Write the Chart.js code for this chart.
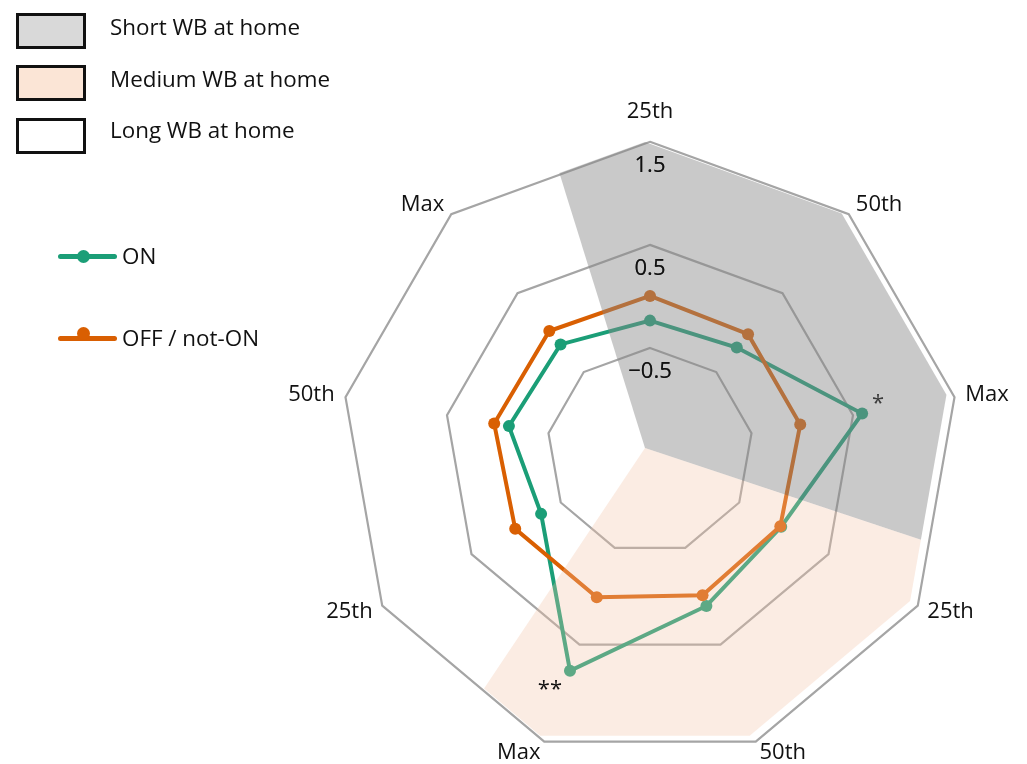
<!DOCTYPE html>
<html lang="en">
<head>
<meta charset="UTF-8">
<script src="https://cdn.jsdelivr.net/npm/chart.js"></script>
<title>WB at home radar</title>
<style>
  body { margin: 0; background: #fff; overflow: hidden; }
  #wrap { position: relative; width: 1027px; height: 764px; overflow: hidden; }
  #chart { position: absolute; left: 0; top: 0; }
  .sw { position: absolute; left: 16px; width: 70px; height: 36px; box-sizing: border-box; border: 3px solid #111; }
  .txt { position: absolute; font-family: 'Open Sans', sans-serif; font-size: 22.4px; line-height: 26px; color: #111; white-space: nowrap; }
  .ln { position: absolute; left: 58px; width: 59px; height: 5px; border-radius: 3px; }
  .dot { position: absolute; left: 77px; width: 13px; height: 13px; border-radius: 50%; }
</style>
</head>
<body>
<div id="wrap">
  <!-- canvas runs a little below the window so the bottom labels can sit low -->
  <canvas id="chart" width="1027" height="782"></canvas>
  <div id="keys"></div>
</div>
<script>
// data
const axisLabels = ['25th', '50th', 'Max', '25th', '50th', 'Max', '25th', '50th', 'Max'];
const onValues = [-0.235, -0.19, 0.59, -0.03, 0.10, 0.77, -0.28, -0.11, -0.15];
const offValues = [0.005, -0.02, -0.02, -0.04, -0.01, 0.01, 0.01, 0.035, 0.02];
const onMarks = ['', '', '*', '', '', '**', '', '', ''];
const seriesNames = ['ON', 'OFF / not-ON'];
const groupNames = ['Short WB at home', 'Medium WB at home', 'Long WB at home'];
const rMin = -1.5, rMax = 1.5, rStep = 1;

// styling
const green = '#1b9e77', orange = '#d95f02';
const swatchFills = ['#d9d9d9', '#fbe5d6', '#ffffff'];
const shadeFills = ['rgba(135,135,135,0.45)', 'rgba(242,193,164,0.31)'];
const sectorBounds = [-17.3, 108.4, 213.8]; // degrees clockwise from top
const shadeShift = [-5, -3], shadeScale = 0.99;
const markOffset = { 2: [16, -10], 5: [-20, 19] };
const markColor = { 2: '#3a3a3a', 5: '#111' };
const fontFam = "'Open Sans', sans-serif";

Chart.defaults.font.family = fontFam;

// html legend
const keys = document.getElementById('keys');
function add(cls, css, text) {
  const el = document.createElement('div');
  el.className = cls;
  Object.assign(el.style, css);
  if (text) el.textContent = text;
  keys.appendChild(el);
}
const boxTops = [13, 65, 118], boxTextTops = [14, 66, 117];
groupNames.forEach((name, i) => {
  add('sw', { top: boxTops[i] + 'px', background: swatchFills[i] });
  add('txt', { left: '110px', top: boxTextTops[i] + 'px' }, name);
});
const lineMid = [256, 338], dotMid = [256, 333];
[green, orange].forEach((c, i) => {
  add('ln', { top: (lineMid[i] - 2.5) + 'px', background: c });
  add('dot', { top: (dotMid[i] - 6.5) + 'px', background: c });
  add('txt', { left: '122px', top: (lineMid[i] - 13) + 'px' }, seriesNames[i]);
});

// point on the polygon rim at a given angle
function rim(cx, cy, r, n, deg) {
  const step = 360 / n;
  const nd = ((deg % 360) + 360) % 360;
  const mid = (Math.floor(nd / step) + 0.5) * step;
  const d = r * Math.cos(Math.PI / n) / Math.cos((nd - mid) * Math.PI / 180);
  const a = deg * Math.PI / 180;
  return [cx + d * Math.sin(a), cy - d * Math.cos(a)];
}

const overlay = {
  id: 'overlay',
  afterDatasetsDraw(chart) {
    const ctx = chart.ctx;
    const sc = chart.scales.r;
    const n = axisLabels.length;
    const step = 360 / n;
    ctx.save();

    // group sectors, laid over the lines
    const cx = sc.xCenter + shadeShift[0], cy = sc.yCenter + shadeShift[1];
    const r = sc.drawingArea * shadeScale;
    shadeFills.forEach((fill, s) => {
      const a0 = sectorBounds[s], a1 = sectorBounds[s + 1];
      ctx.beginPath();
      ctx.moveTo(cx, cy);
      ctx.lineTo(...rim(cx, cy, r, n, a0));
      for (let k = Math.ceil(a0 / step); k * step < a1; k++) {
        const a = k * step * Math.PI / 180;
        ctx.lineTo(cx + r * Math.sin(a), cy - r * Math.cos(a));
      }
      ctx.lineTo(...rim(cx, cy, r, n, a1));
      ctx.closePath();
      ctx.fillStyle = fill;
      ctx.fill();
    });

    // significance marks
    const meta = chart.getDatasetMeta(0);
    ctx.font = '22px ' + fontFam;
    ctx.textAlign = 'center';
    ctx.textBaseline = 'middle';
    onMarks.forEach((m, i) => {
      if (!m) return;
      const p = meta.data[i];
      const off = markOffset[i];
      ctx.fillStyle = markColor[i];
      ctx.fillText(m, p.x + off[0], p.y + off[1]);
    });
    ctx.restore();

    // tick values stay on top of the shading
    sc.drawLabels();
  }
};

const data = {
  labels: axisLabels,
  datasets: [{
    label: seriesNames[0],
    data: onValues,
    borderColor: green,
    backgroundColor: green,
    pointBackgroundColor: green,
    borderWidth: 4,
    pointRadius: 6,
    pointBorderWidth: 0,
    fill: false,
    order: 1
  }, {
    label: seriesNames[1],
    data: offValues,
    borderColor: orange,
    backgroundColor: orange,
    pointBackgroundColor: orange,
    borderWidth: 4,
    pointRadius: 6,
    pointBorderWidth: 0,
    fill: false,
    order: 0
  }]
};

const config = {
  type: 'radar',
  data: data,
  options: {
    responsive: false,
    animation: false,
    layout: { padding: { left: 278, right: 8, top: 102, bottom: 0 } },
    plugins: {
      legend: { display: false },
      tooltip: { enabled: false }
    },
    scales: {
      r: {
        min: rMin,
        max: rMax,
        angleLines: { display: false },
        grid: {
          color: (c) => c.index === 0 ? 'rgba(0,0,0,0)' : '#a5a5a5',
          lineWidth: 2.2
        },
        ticks: {
          stepSize: rStep,
          showLabelBackdrop: false,
          backdropPadding: 0,
          color: '#111',
          font: { size: 22, lineHeight: '24px' },
          callback: (v) => {
            if (v === rMin) return '';
            const s = Math.abs(v).toFixed(1);
            return ['', v < 0 ? '\u2212' + s : s];
          }
        },
        pointLabels: {
          color: '#111',
          font: { size: 22, lineHeight: 0.1 },
          padding: (c) => c.index === 0 ? 17.6 : 0
        }
      }
    }
  },
  plugins: [overlay]
};

const myChart = new Chart(document.getElementById('chart'), config);
</script>
</body>
</html>
